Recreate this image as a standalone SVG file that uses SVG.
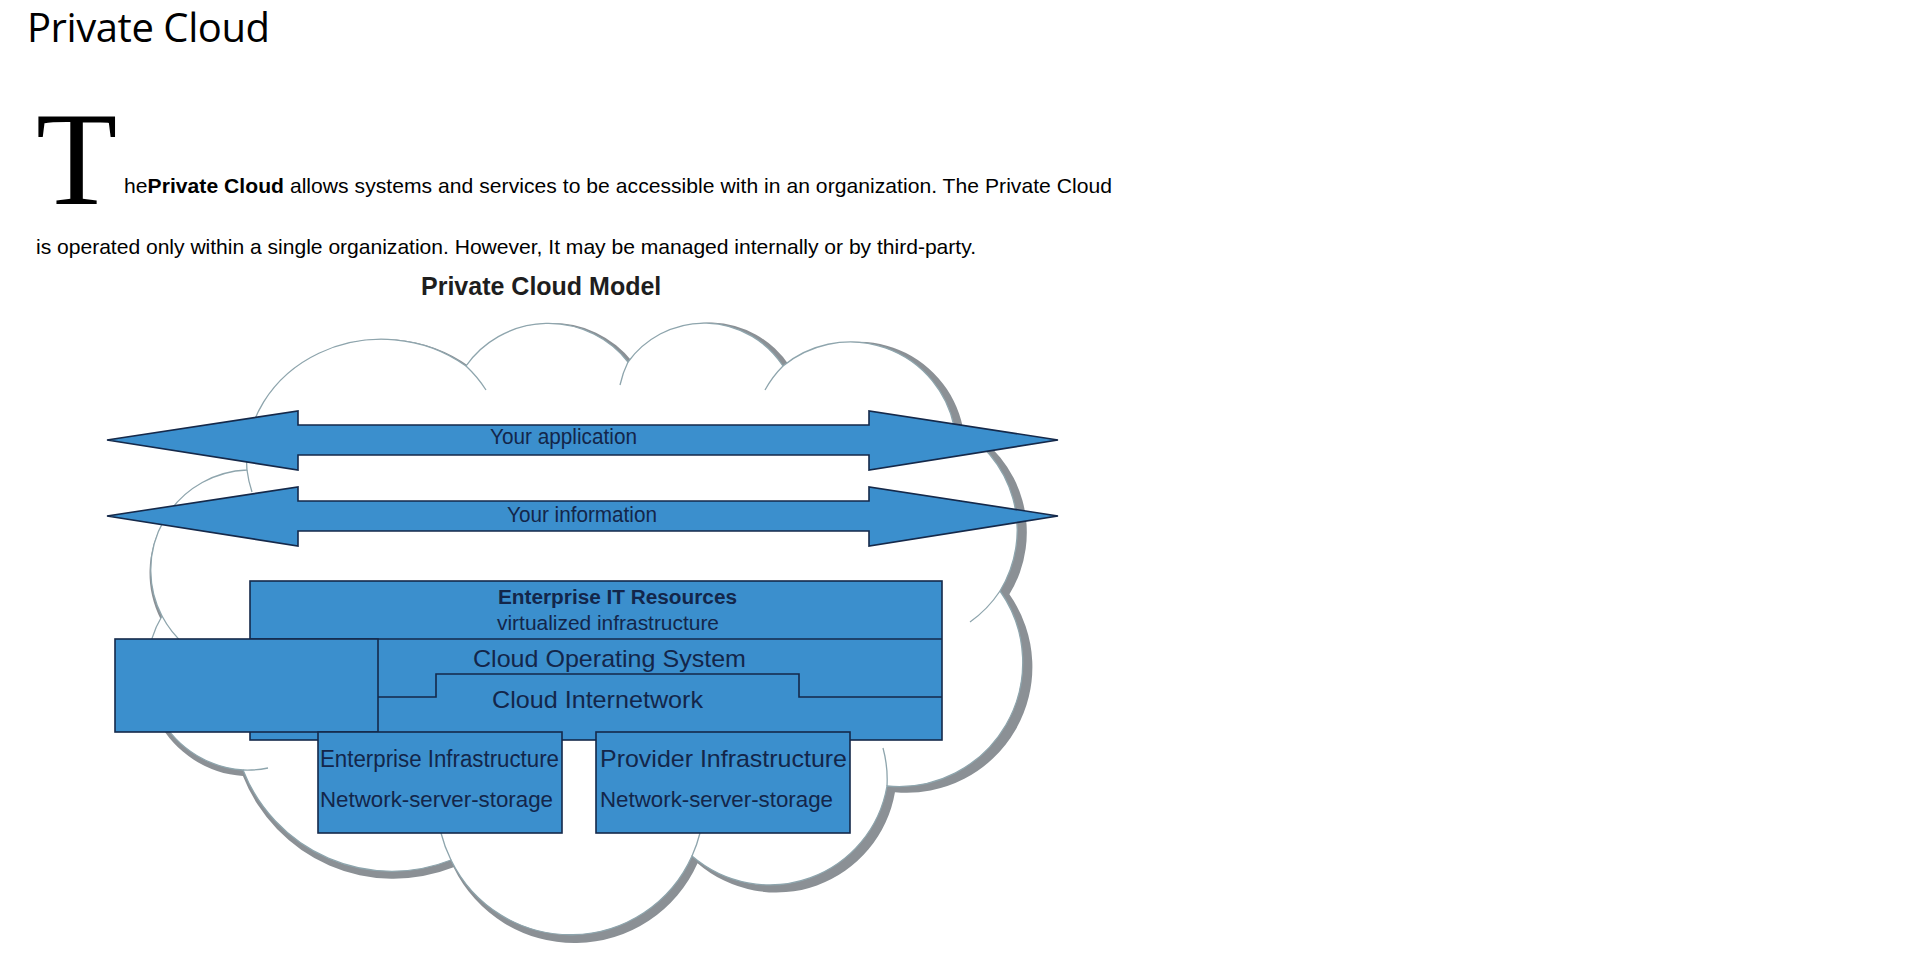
<svg xmlns="http://www.w3.org/2000/svg" width="1911" height="956" viewBox="0 0 1911 956">
<style>
.page{font-family:"Liberation Sans",Arial,sans-serif;fill:#000;font-size:21.1px}
.lbl{font-family:"Liberation Sans",Arial,sans-serif;fill:#13264a}
.blk{fill:#3b8fcd;stroke:#15294a;stroke-width:1.6}
.ln{fill:none;stroke:#15294a;stroke-width:1.6}
.cl{fill:none;stroke:#8ea5ad;stroke-width:1.3}
</style>
<rect width="1911" height="956" fill="#fff"/>
<g id="page-title"><text x="27" y="42" font-family="'Open Sans','Noto Sans',sans-serif" font-size="40" textLength="243" fill="#000">Private Cloud</text></g>
<g id="intro-text">
<text x="36" y="204" font-family="'Liberation Serif','Times New Roman',serif" font-size="133" fill="#000">T</text>
<text class="page" x="124" y="193" textLength="988">he<tspan font-weight="bold">Private Cloud</tspan> allows systems and services to be accessible with in an organization. The Private Cloud</text>
<text class="page" x="36" y="254" textLength="940">is operated only within a single organization. However, It may be managed internally or by third-party.</text>
</g>
<g id="diagram-title"><text x="421" y="295" font-family="'Liberation Sans',Arial,sans-serif" font-weight="bold" font-size="25" fill="#1e1e1e">Private Cloud Model</text></g>
<g id="cloud">
<defs><path id="cloudpath" d="M243 770 A102 102 0 0 1 162 616 A100 100 0 0 1 247 470 A135 122 0 0 1 466 366 A100 98 0 0 1 628 362 A95 97 0 0 1 783 366 A106 106 0 0 1 954 426 A117 117 0 0 1 1000 591 A124 124 0 0 1 887 786 A119 119 0 0 1 692 856 A133 133 0 0 1 451 860 A160 160 0 0 1 243 770 Z"/></defs>
<use href="#cloudpath" fill="#8b9095" transform="translate(250 360) scale(1.0125 1.0145) translate(-250 -360)"/>
<use href="#cloudpath" fill="#fff" stroke="#8ea5ad" stroke-width="1.3"/>
<path class="cl" d="M466 366 A135 122 0 0 1 486 390"/>
<path class="cl" d="M620 385 A95 97 0 0 1 628 362"/>
<path class="cl" d="M765 390 A106 106 0 0 1 783 366"/>
<path class="cl" d="M1000 591 A117 117 0 0 1 970 622"/>
<path class="cl" d="M883 748 A119 119 0 0 1 887 786"/>
<path class="cl" d="M700 833 A133 133 0 0 1 692 856"/>
<path class="cl" d="M451 860 A133 133 0 0 1 441 833"/>
<path class="cl" d="M243 770 A102 102 0 0 0 268 768"/>
<path class="cl" d="M162 616 A100 100 0 0 0 185 645"/>
<path class="cl" d="M247 470 A135 122 0 0 0 252 492"/>
</g>
<g id="enterprise-it-resources">
<rect class="blk" x="250" y="581" width="692" height="159"/>
<line class="ln" x1="250" y1="639" x2="942" y2="639"/>
<text class="lbl" x="498" y="604" font-size="20" font-weight="bold" textLength="239" lengthAdjust="spacingAndGlyphs">Enterprise IT Resources</text>
<text class="lbl" x="497" y="630" font-size="20.5" textLength="222" lengthAdjust="spacingAndGlyphs">virtualized infrastructure</text>
</g>
<g id="left-block"><rect class="blk" x="115" y="639" width="263" height="93"/></g>
<g id="cloud-operating-system">
<polyline class="ln" points="378,697 436,697 436,674 799,674 799,697 942,697"/>
<text class="lbl" x="473" y="667" font-size="24" textLength="273" lengthAdjust="spacingAndGlyphs">Cloud Operating System</text>
</g>
<g id="cloud-internetwork"><text class="lbl" x="492" y="708" font-size="24" textLength="211" lengthAdjust="spacingAndGlyphs">Cloud Internetwork</text></g>
<g id="enterprise-infrastructure">
<rect class="blk" x="318" y="732" width="244" height="101"/>
<text class="lbl" x="320" y="767" font-size="23.5" textLength="239" lengthAdjust="spacingAndGlyphs">Enterprise Infrastructure</text>
<text class="lbl" x="320" y="807" font-size="22.5" textLength="233" lengthAdjust="spacingAndGlyphs">Network-server-storage</text>
</g>
<g id="provider-infrastructure">
<rect class="blk" x="596" y="732" width="254" height="101"/>
<text class="lbl" x="600" y="767" font-size="24.5" textLength="247" lengthAdjust="spacingAndGlyphs">Provider Infrastructure</text>
<text class="lbl" x="600" y="807" font-size="22.5" textLength="233" lengthAdjust="spacingAndGlyphs">Network-server-storage</text>
</g>
<g id="connectors">
<path class="blk" d="M107 440 L298 411 L298 425 L869 425 L869 411 L1058 440 L869 470 L869 455 L298 455 L298 470 Z"/>
<path class="blk" d="M107 516 L298 487 L298 501 L869 501 L869 487 L1058 516 L869 546 L869 531 L298 531 L298 546 Z"/>
<text class="lbl" x="490" y="444" font-size="22" textLength="147" lengthAdjust="spacingAndGlyphs">Your application</text>
<text class="lbl" x="507" y="522" font-size="22" textLength="150" lengthAdjust="spacingAndGlyphs">Your information</text>
</g>
</svg>
